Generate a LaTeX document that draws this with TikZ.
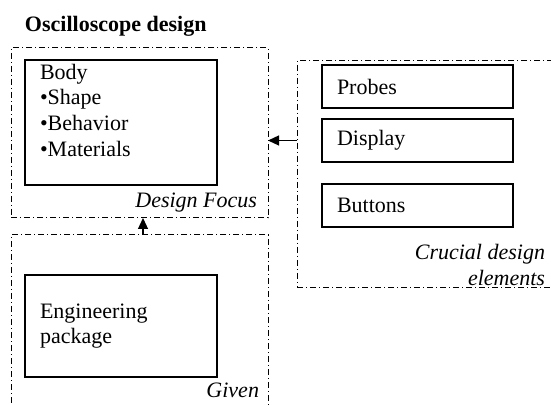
\documentclass[tikz,border=0pt]{standalone}
\usepackage{fontspec}
\setmainfont{Liberation Serif}
\usetikzlibrary{arrows.meta}

\begin{document}
\begin{tikzpicture}[x=0.5pt,y=-0.5pt,
	every node/.style={font=\fontsize{11}{12.8}\selectfont,inner sep=0pt,outer sep=0pt},
	frame/.style={draw,line width=0.5pt,dash pattern=on 3pt off 1.5pt on 0.5pt off 1.5pt},
	box/.style={draw,line width=0.7pt},
	elem/.style={draw,line width=0.7pt,minimum height=21.5pt,text width=80.5pt,inner xsep=7.5pt,align=left},
	feed/.style={-{Triangle[length=5.5pt,width=5pt]},line width=0.6pt}]
	\useasboundingbox (0,0) rectangle (551,405);

	\node[anchor=base west,font=\fontsize{11}{12.8}\selectfont\bfseries] (title) at (25,32) {Oscilloscope design};

	% design focus
	\node[frame,minimum width=128.5pt,minimum height=85pt] (focus) at (139.5,133) {};
	\node[box,minimum width=96pt,minimum height=62.5pt] (body) at (121,122.5) {};
	\node[anchor=north west,align=left] (bodytext) at (40,64) {Body\\•Shape\\•Behavior\\•Materials};
	\node[anchor=east,font=\fontsize{11}{12.8}\selectfont\itshape] (focuslbl) at (257,203) {Design Focus};

	% given
	\node[frame,minimum width=128.5pt,minimum height=97.5pt] (given) at (139.5,332.5) {};
	\node[box,minimum width=96pt,minimum height=51pt,text width=81pt,inner xsep=7.5pt,align=left] (eng) at (121,326) {Engineering\\package};
	\node[anchor=east,font=\fontsize{11}{12.8}\selectfont\itshape] (givenlbl) at (259,390) {Given};

	% crucial design elements
	\node[frame,minimum width=134pt,minimum height=113.5pt] (crucial) at (431,174.5) {};
	\foreach \t/\y [count=\n] in {Probes/86.5,Display/140.5,Buttons/205.5}
		\node[elem] (E\n) at (417.5,\y) {\t};
	\node[anchor=east,align=right,font=\fontsize{11}{12.8}\selectfont\itshape] (cruciallbl) at (545,265) {Crucial design\\elements};

	\draw[feed] (crucial.west |- E2) -- (focus.east |- E2);
	\draw[feed] ([xshift=1.75pt]given.north) -- ([xshift=1.75pt]focus.south);
\end{tikzpicture}
\end{document}
